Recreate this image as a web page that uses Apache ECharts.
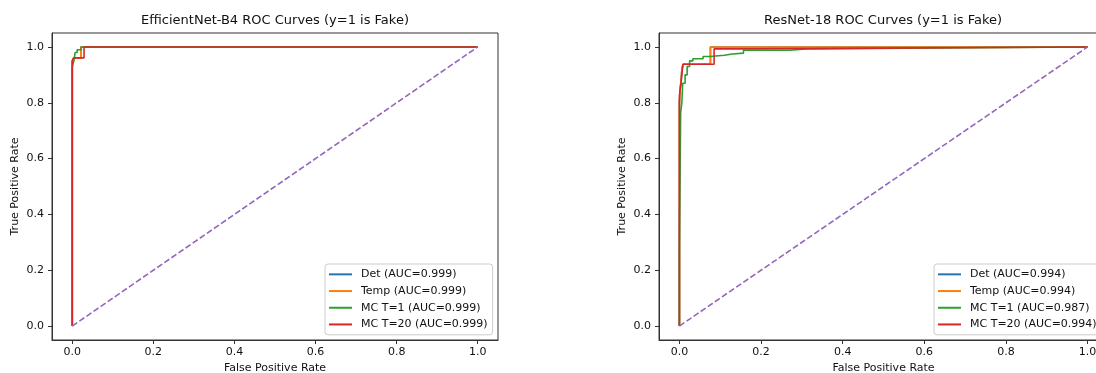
<!DOCTYPE html>
<html>
<head>
<meta charset="utf-8">
<script src="https://cdn.jsdelivr.net/npm/echarts@6/dist/echarts.min.js"></script>
<style>
  html, body { margin: 0; padding: 0; background: #fff; }
  #chart { width: 1096px; height: 373px; }
</style>
</head>
<body>
<div id="chart"></div>
<script>
// tick labels shared by both panels
const tickValues = [0, 0.2, 0.4, 0.6, 0.8, 1.0]

const methods = ['Det', 'Temp', 'MC T=1', 'MC T=20']
const effAuc = [0.999, 0.999, 0.999, 0.999]
const resAuc = [0.994, 0.994, 0.987, 0.994]

// EfficientNet-B4 ROC points
const effDetFpr = [0, 0, 0.003, 0.003, 0.021, 0.021, 1]
const effDetTpr = [0, 0.95, 0.95, 0.96, 0.96, 1.0, 1.0]
const effTempFpr = [0, 0, 0.003, 0.003, 0.021, 0.021, 1]
const effTempTpr = [0, 0.95, 0.95, 0.96, 0.96, 1.0, 1.0]
const effMc1Fpr = [0, 0, 0.004, 0.004, 0.007, 0.007, 0.012, 0.012, 0.022, 0.022, 1]
const effMc1Tpr = [0, 0.93, 0.93, 0.95, 0.95, 0.98, 0.98, 0.99, 0.99, 1.0, 1.0]
const effMc20Fpr = [0, 0, 0.004, 0.004, 0.029, 0.029, 1]
const effMc20Tpr = [0, 0.95, 0.95, 0.961, 0.961, 1.0, 1.0]

// ResNet-18 ROC points
const resDetFpr = [0, 0, 0.002, 0.002, 0.004, 0.004, 0.006, 0.006, 0.009, 0.009, 0.076, 0.076, 1]
const resDetTpr = [0, 0.80, 0.80, 0.85, 0.85, 0.88, 0.88, 0.92, 0.92, 0.938, 0.938, 1.0, 1.0]
const resTempFpr = [0, 0, 0.002, 0.002, 0.004, 0.004, 0.006, 0.006, 0.009, 0.009, 0.076, 0.076, 1]
const resTempTpr = [0, 0.80, 0.80, 0.85, 0.85, 0.88, 0.88, 0.92, 0.92, 0.938, 0.938, 1.0, 1.0]
const resMc1Fpr = [0, 0, 0.003, 0.003, 0.006, 0.006, 0.008, 0.008, 0.014, 0.014, 0.019, 0.019, 0.025, 0.025,
  0.033, 0.033, 0.058, 0.058, 0.075, 0.075, 0.11, 0.11, 0.13, 0.13, 0.157, 0.157, 0.27, 0.27, 0.31, 0.31, 0.71, 0.71, 1]
const resMc1Tpr = [0, 0.28, 0.28, 0.765, 0.765, 0.80, 0.80, 0.87, 0.87, 0.90, 0.90, 0.93, 0.93, 0.95,
  0.95, 0.958, 0.958, 0.966, 0.966, 0.970, 0.970, 0.975, 0.975, 0.978, 0.978, 0.988, 0.988, 0.993, 0.993, 0.997, 0.997, 1.0, 1.0]
const resMc20Fpr = [0, 0, 0.002, 0.002, 0.004, 0.004, 0.007, 0.007, 0.009, 0.009, 0.085, 0.085, 0.166, 0.166, 1]
const resMc20Tpr = [0, 0.825, 0.825, 0.85, 0.85, 0.87, 0.87, 0.915, 0.915, 0.938, 0.938, 0.993, 0.993, 1.0, 1.0]

const diagX = [0, 1]
const diagY = [0, 1]

const colors = ['#1f77b4', '#ff7f0e', '#2ca02c', '#d62728']
const font = 'DejaVu Sans'
const ink = '#111'

function pts(xs, ys) {
  return xs.map((x, i) => [x, ys[i]])
}

function names(aucs) {
  return methods.map((m, i) => `${m} (AUC=${aucs[i].toFixed(3)})`)
}

const effNames = names(effAuc)
const resNames = names(resAuc)

function xAxisFor(gi) {
  return {
    gridIndex: gi,
    type: 'value',
    min: -0.05,
    max: 1.05,
    name: 'False Positive Rate',
    nameLocation: 'middle',
    nameGap: 23,
    nameTextStyle: { fontSize: 11, color: ink, fontFamily: font },
    axisLine: { show: true, onZero: false, lineStyle: { color: '#333', width: 1 } },
    axisTick: { show: true, length: 4, customValues: tickValues, lineStyle: { color: '#333', width: 1 } },
    axisLabel: { customValues: tickValues, formatter: v => v.toFixed(1), margin: 7, fontSize: 11, color: ink, fontFamily: font },
    splitLine: { show: false }
  }
}

function yAxisFor(gi) {
  return {
    gridIndex: gi,
    type: 'value',
    min: -0.05,
    max: 1.05,
    name: 'True Positive Rate',
    nameLocation: 'middle',
    nameGap: 31,
    nameTextStyle: { fontSize: 11, color: ink, fontFamily: font },
    axisLine: { show: true, onZero: false, lineStyle: { color: '#333', width: 1 } },
    axisTick: { show: true, length: 4, customValues: tickValues, lineStyle: { color: '#333', width: 1 } },
    axisLabel: { customValues: tickValues, formatter: v => v.toFixed(1), margin: 8, fontSize: 11, color: ink, fontFamily: font },
    splitLine: { show: false }
  }
}

function legendFor(data, left) {
  return {
    data: data,
    orient: 'vertical',
    left: left,
    top: 264,
    icon: 'rect',
    itemWidth: 23,
    itemHeight: 2,
    itemGap: 0,
    padding: [2, 5, 2, 4],
    selectedMode: false,
    textStyle: { fontSize: 11, lineHeight: 16.7, color: ink, fontFamily: font, padding: [0, 0, 0, 4] },
    backgroundColor: 'rgba(255,255,255,0.8)',
    borderColor: '#ccc',
    borderWidth: 1,
    borderRadius: 3
  }
}

function line(name, data, color, gi) {
  return {
    name: name,
    type: 'line',
    xAxisIndex: gi,
    yAxisIndex: gi,
    data: data,
    showSymbol: false,
    symbol: 'none',
    color: color,
    lineStyle: { width: 1.6, color: color },
    silent: true
  }
}

function diag(gi) {
  return {
    type: 'line',
    xAxisIndex: gi,
    yAxisIndex: gi,
    data: pts(diagX, diagY),
    showSymbol: false,
    symbol: 'none',
    lineStyle: { width: 1.6, color: '#9467bd', type: [6, 2.6] },
    silent: true
  }
}

const effSets = [pts(effDetFpr, effDetTpr), pts(effTempFpr, effTempTpr), pts(effMc1Fpr, effMc1Tpr), pts(effMc20Fpr, effMc20Tpr)]
const resSets = [pts(resDetFpr, resDetTpr), pts(resTempFpr, resTempTpr), pts(resMc1Fpr, resMc1Tpr), pts(resMc20Fpr, resMc20Tpr)]

const series = []
effSets.forEach((d, i) => series.push(line(effNames[i], d, colors[i], 0)))
series.push(diag(0))
resSets.forEach((d, i) => series.push(line(resNames[i], d, colors[i], 1)))
series.push(diag(1))

const chart = echarts.init(document.getElementById('chart'), null, { renderer: 'canvas' })

chart.setOption({
  animation: false,
  backgroundColor: '#fff',
  textStyle: { fontFamily: font },
  title: [
    { text: 'EfficientNet-B4 ROC Curves (y=1 is Fake)', left: 275, top: 14, padding: 0, textAlign: 'center',
      textStyle: { fontSize: 13, fontWeight: 'normal', color: ink, fontFamily: font } },
    { text: 'ResNet-18 ROC Curves (y=1 is Fake)', left: 883, top: 14, padding: 0, textAlign: 'center',
      textStyle: { fontSize: 13, fontWeight: 'normal', color: ink, fontFamily: font } }
  ],
  grid: [
    { left: 52, top: 33, width: 446, height: 307, show: true, borderColor: '#333', borderWidth: 1, outerBoundsMode: 'none' },
    { left: 659, top: 33, width: 449, height: 307, show: true, borderColor: '#333', borderWidth: 1, outerBoundsMode: 'none' }
  ],
  xAxis: [xAxisFor(0), xAxisFor(1)],
  yAxis: [yAxisFor(0), yAxisFor(1)],
  legend: [legendFor(effNames, 325), legendFor(resNames, 934)],
  series: series
})
</script>
</body>
</html>
